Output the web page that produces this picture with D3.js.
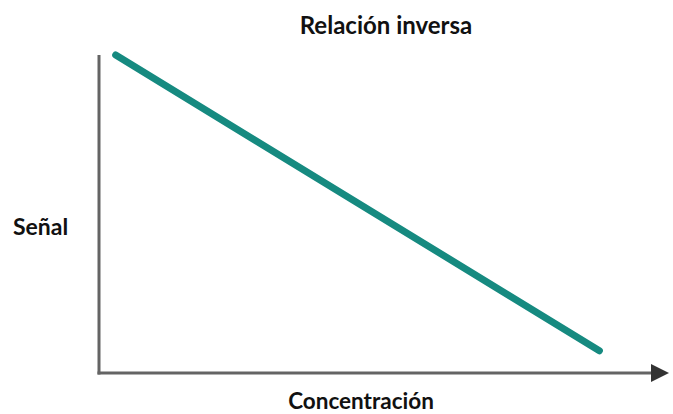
<!DOCTYPE html>
<html><head><meta charset="utf-8">
<script src="https://cdn.jsdelivr.net/npm/d3@7"></script>
<style>body{margin:0;background:#fff}svg{display:block}</style>
</head><body>
<script>
const concentration = [0.3, 9.0];
const signal = [10, 0.7];
const titleText = "Relación inversa";
const xLabel = "Concentración";
const yLabel = "Señal";

const W = 673, H = 414;
const svg = d3.select("body").append("svg").attr("width", W).attr("height", H);
const x = d3.scaleLinear().domain([0, 10]).range([99, 655]);
const y = d3.scaleLinear().domain([0, 10]).range([373, 55]);

const axisColor = "#646464";
svg.append("line").attr("x1", x(0)).attr("x2", x(0)).attr("y1", y(10)).attr("y2", y(0) + 1.5)
  .attr("stroke", axisColor).attr("stroke-width", 3);
svg.append("line").attr("x1", x(0) - 1.5).attr("x2", x(10)).attr("y1", y(0)).attr("y2", y(0))
  .attr("stroke", axisColor).attr("stroke-width", 3);
svg.append("path")
  .attr("d", `M${x(10) - 4},${y(0) - 9} L${x(10) + 14},${y(0)} L${x(10) - 4},${y(0) + 9} Z`)
  .attr("fill", "#333");

const pts = concentration.map((c, i) => [c, signal[i]]);
svg.append("path").datum(pts)
  .attr("d", d3.line().x(d => x(d[0])).y(d => y(d[1])))
  .attr("stroke", "#168a80").attr("stroke-width", 7).attr("stroke-linecap", "round").attr("fill", "none");

const font = "Lato, 'Open Sans', sans-serif";
svg.append("text").attr("x", 386).attr("y", 34).attr("text-anchor", "middle")
  .attr("font-family", font).attr("font-weight", "bold").attr("font-size", 24).attr("fill", "#111").text(titleText);
svg.append("text").attr("x", 361).attr("y", 409).attr("text-anchor", "middle")
  .attr("font-family", font).attr("font-weight", "bold").attr("font-size", 22.5).attr("fill", "#111").text(xLabel);
svg.append("text").attr("x", 13).attr("y", 235).attr("text-anchor", "start")
  .attr("font-family", font).attr("font-weight", "bold").attr("font-size", 23).attr("fill", "#111").text(yLabel);
</script>
</body></html>
